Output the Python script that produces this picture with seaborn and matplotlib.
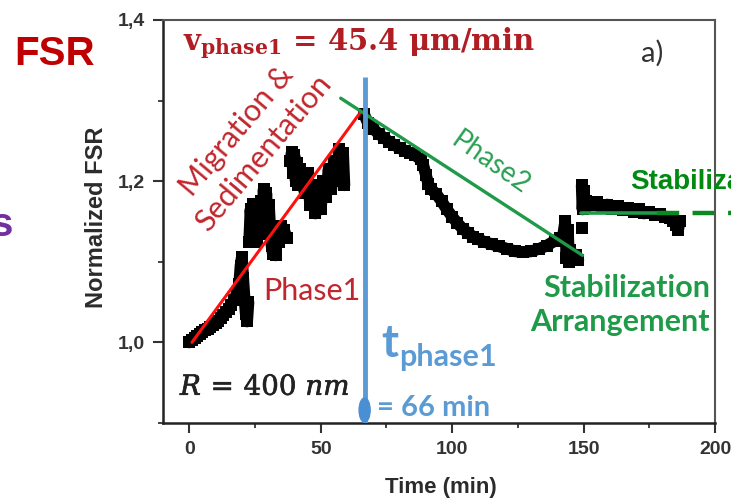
import numpy as np
import pandas as pd
import seaborn as sns
import matplotlib.pyplot as plt
import matplotlib.patheffects as pe
from matplotlib.ticker import MultipleLocator, FuncFormatter
from matplotlib.patches import Ellipse

# измерения FSR, по кускам (t в минутах, нормированный FSR)
rise_t = [0, 1, 2, 3, 4, 5, 6, 7, 8, 9, 10, 11, 12, 13, 14, 15, 16, 17, 18,
          19, 19.5, 20, 20.5, 21, 21.5, 22, 22.5]
rise_v = [1.000, 1.003, 1.006, 1.008, 1.011, 1.013, 1.015, 1.017, 1.019, 1.021,
          1.024, 1.027, 1.030, 1.034, 1.038, 1.042, 1.047, 1.053, 1.060,
          1.072, 1.095, 1.106, 1.080, 1.055, 1.035, 1.026, 1.050]

clus1_t = [22.8, 23.3, 23.8, 24.3, 24.8, 25.3, 25.8, 26.3, 26.8, 27.3, 27.8, 28.3,
           28.8, 29.3, 29.8, 30.3, 30.8, 31.3, 31.8, 32.3, 32.8, 33.3, 34, 35, 36, 37]
clus1_v = [1.125, 1.165, 1.140, 1.172, 1.130, 1.160, 1.125, 1.150, 1.135, 1.175,
           1.150, 1.190, 1.160, 1.185, 1.145, 1.170, 1.140, 1.120, 1.110, 1.140,
           1.108, 1.130, 1.125, 1.145, 1.140, 1.130]

clus2_t = [38.5, 39, 39.5, 40, 40.5, 41, 41.5, 42, 43, 44, 45, 46, 47, 48, 49, 50,
           51, 52, 53, 54, 55, 56, 57, 58, 58.5, 59]
clus2_v = [1.225, 1.236, 1.210, 1.232, 1.200, 1.222, 1.195, 1.215, 1.200, 1.185,
           1.210, 1.170, 1.195, 1.160, 1.185, 1.165, 1.200, 1.180, 1.215, 1.190,
           1.225, 1.200, 1.240, 1.215, 1.235, 1.195]

fall_t = [66.5, 68, 70, 72, 74, 76, 78, 80, 82, 84, 86, 88, 89, 90, 91, 92, 94, 96,
          98, 100, 102, 104, 106, 108, 110, 112, 115, 118, 121, 124, 127, 130, 133,
          136, 139, 141, 142, 143, 143.5, 144, 144.5, 145, 146, 147, 148]
fall_v = [1.283, 1.272, 1.265, 1.259, 1.254, 1.249, 1.245, 1.241, 1.238, 1.235,
          1.232, 1.227, 1.220, 1.208, 1.196, 1.190, 1.184, 1.175, 1.165, 1.156,
          1.148, 1.141, 1.136, 1.131, 1.128, 1.125, 1.122, 1.119, 1.116, 1.113,
          1.112, 1.113, 1.116, 1.120, 1.126, 1.130, 1.128, 1.150, 1.105, 1.140,
          1.100, 1.115, 1.105, 1.108, 1.102]

lone_t = [149.5]
lone_v = [1.142]

stab_t = [149.3, 149.6, 150, 150.5, 151, 153, 155, 157, 159, 161, 163, 165, 167,
          169, 171, 173, 175, 177, 179, 181, 183, 184, 185, 186, 186.5]
stab_v = [1.195, 1.165, 1.188, 1.168, 1.175, 1.171, 1.174, 1.168, 1.171, 1.166,
          1.169, 1.164, 1.167, 1.162, 1.165, 1.160, 1.162, 1.158, 1.159, 1.156,
          1.154, 1.150, 1.146, 1.140, 1.150]

# аппроксимации
fit1_t, fit1_v = [1, 65], [1.0, 1.285]
fit2_t, fit2_v = [57.6, 149.6], [1.303, 1.108]
flat_t, flat_v = [149, 178], [1.160, 1.160]
flat_dash_t, flat_dash_v = [178, 206], [1.160, 1.160]
t_phase1 = 66.7

sns.set_style('ticks')
plt.rcParams['font.family'] = ['Liberation Sans', 'DejaVu Sans']
plt.rcParams['mathtext.fontset'] = 'dejavuserif'

W, H = 731, 504
fig = plt.figure(figsize=(W / 100, H / 100), dpi=100)
ax = fig.add_axes([163 / W, 1 - 423 / H, (715 - 163) / W, (423 - 20) / H])


def px(x, y):
    return x / W, 1 - y / H


segs = [(rise_t, rise_v), (clus1_t, clus1_v), (clus2_t, clus2_v),
        (fall_t, fall_v), (lone_t, lone_v), (stab_t, stab_v)]
df = pd.concat([pd.DataFrame({'t': t, 'v': v, 'seg': i}) for i, (t, v) in enumerate(segs)])

sns.lineplot(data=df, x='t', y='v', units='seg', estimator=None, sort=False,
             color='black', lw=8.5, ax=ax, legend=False)
sns.scatterplot(data=df, x='t', y='v', marker='s', s=65, color='black',
                linewidth=0, ax=ax, legend=False)

sns.lineplot(x=fit1_t, y=fit1_v, color='#FF1010', lw=2.2, ax=ax)
sns.lineplot(x=fit2_t, y=fit2_v, color='#1E9A48', lw=2.4, ax=ax)
sns.lineplot(x=flat_t, y=flat_v, color='#1E9A48', lw=2.6, ax=ax)
ax.plot(flat_dash_t, flat_dash_v, color='#0A8A1E', lw=3.2, dashes=(5, 3), clip_on=False)

ax.vlines(t_phase1, 0.9, 1.329, color='#5B9BD5', lw=3.5, zorder=4)
ax.add_patch(Ellipse((t_phase1, 0.916), width=4.2, height=0.03, color='#4A8FD4',
                     clip_on=False, zorder=5))

ax.set_xlim(-10, 200)
ax.set_ylim(0.9, 1.4)
ax.xaxis.set_major_locator(MultipleLocator(50))
ax.xaxis.set_minor_locator(MultipleLocator(25))
ax.yaxis.set_major_locator(MultipleLocator(0.2))
ax.yaxis.set_minor_locator(MultipleLocator(0.1))
ax.yaxis.set_major_formatter(FuncFormatter(lambda v, p: f'{v:.1f}'.replace('.', ',')))
ax.tick_params(which='major', length=7, width=1.5, color='#333333', labelsize=14,
               labelcolor='#333333', pad=6)
ax.tick_params(which='minor', length=3.5, width=1.3, color='#333333')
for lab in ax.get_xticklabels() + ax.get_yticklabels():
    lab.set_fontweight('bold')
for side in ['left', 'bottom']:
    ax.spines[side].set_linewidth(1.8)
    ax.spines[side].set_color('#222222')
for side in ['top', 'right']:
    ax.spines[side].set_linewidth(1.5)
    ax.spines[side].set_color('#555555')

ax.set_xlabel('Time (min)', fontsize=16, fontweight='bold', color='#2b2b2b')
ax.set_ylabel('Normalized FSR', fontsize=17, fontweight='bold', color='#2b2b2b')
ax.xaxis.set_label_coords(0.504, -0.134)
ax.yaxis.set_label_coords(-0.10, 0.511)

# подписи
fig.text(*px(55, 54), 'FSR', fontsize=29, fontweight='bold', color='#C00000',
         ha='center', va='center')
fig.text(*px(13, 225), 's', fontsize=29, fontweight='bold', color='#7030A0',
         ha='right', va='center')
fig.text(*px(183, 50), r'$\mathbf{v_{phase1}}$ = 45.4 μm/min', fontsize=21,
         family='DejaVu Serif', fontweight='bold', color='#B01E23', ha='left', va='baseline')
fig.text(*px(652, 53), 'a)', fontsize=21, family='Lato', color='#333333',
         ha='center', va='center')
fig.text(*px(250, 142), 'Migration &\nSedimentation', fontsize=22, family='Lato',
         color='#C0262D', rotation=50, rotation_mode='anchor', ha='center',
         va='center', linespacing=1.3)
fig.text(*px(312, 291), 'Phase1', fontsize=22, family='Lato', color='#C0262D',
         ha='center', va='center')
fig.text(*px(490, 163), 'Phase2', fontsize=20, family='Lato', color='#2AA052',
         rotation=-35, rotation_mode='anchor', ha='center', va='center')
fig.text(*px(710, 305), 'Stabilization\nArrangement', fontsize=22, family='Lato',
         fontweight='bold', color='#1F9A48', ha='right', va='center',
         multialignment='right', linespacing=1.3)
fig.text(*px(630, 182), 'Stabilization', fontsize=20, fontweight='bold',
         color='#008A10', ha='left', va='center')
fig.text(*px(381, 357), 't', fontsize=33, family='Lato', fontweight='bold',
         color='#5B9BD5', ha='left', va='baseline')
fig.text(*px(399, 366), 'phase1', fontsize=22, family='Lato', fontweight='bold',
         color='#5B9BD5', ha='left', va='baseline')
fig.text(*px(377, 416), '= 66 min', fontsize=21, family='Lato', fontweight='bold',
         color='#5B9BD5', ha='left', va='baseline')
fig.text(*px(180, 395), r'$R\, =\, 400\ nm$', fontsize=20, color='#222222',
         ha='left', va='baseline',
         path_effects=[pe.withStroke(linewidth=0.45, foreground='#222222')])

fig.savefig('out.png', dpi=100)
